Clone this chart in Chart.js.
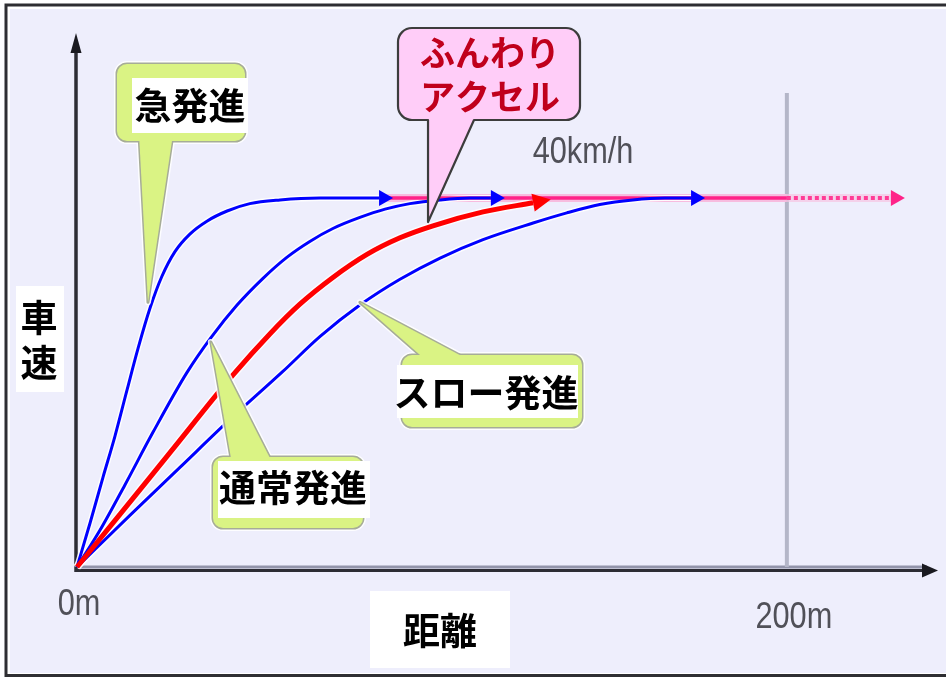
<!DOCTYPE html>
<html><head><meta charset="utf-8">
<script src="https://cdn.jsdelivr.net/npm/chart.js@4/dist/chart.umd.min.js"></script>
<style>html,body{margin:0;padding:0;background:#fff;}canvas{display:block;}</style>
</head><body>
<canvas id="c" width="946" height="677"></canvas>
<script>
// ---- data ----
const xTickValues = [0, 200];
const xTickLabels = ['0m', '200m'];
const targetSpeed = 40;
const speedLabel = '40km/h';
const xTitle = '距離';
const yTitle = ['車', '速'];

const quickX = [0, 3.7, 7.3, 10.7, 14.1, 17.2, 20.6, 23.9, 27.6, 31.8, 36.6, 42.3, 48.7, 57.2, 68.5, 85.1];
const quickY = [0, 4.8, 9.7, 14.2, 19.2, 23.7, 28.1, 31.5, 34.2, 36.1, 37.5, 38.6, 39.4, 39.8, 40, 40];

const normalX = [0, 6.5, 13.5, 21.4, 31.0, 37.8, 45.1, 52.4, 59.2, 65.6, 72.1, 79.7, 86.8, 93.8, 102.3, 110.7, 116.6];
const normalY = [0, 4.0, 8.9, 14.6, 21.1, 24.9, 28.4, 31.3, 33.6, 35.3, 36.7, 37.9, 38.8, 39.4, 39.8, 40, 40];

const softX = [0, 12.1, 26.2, 43.9, 54.4, 62.8, 72.1, 81.7, 91.0, 100.3, 114.4, 128.5];
const softY = [0, 5.7, 12.4, 20.8, 25.3, 28.5, 31.4, 33.9, 35.7, 37.0, 38.5, 39.5];

const slowX = [0, 14.9, 29.0, 43.1, 58.0, 68.5, 79.7, 91.0, 102.3, 114.4, 128.5, 138.0, 147.3, 156.6, 165.6, 173.0];
const slowY = [0, 5.6, 10.8, 16.0, 21.2, 25.0, 28.4, 31.2, 33.5, 35.5, 37.3, 38.4, 39.3, 39.8, 40, 40];

const cruiseX = [85.4, 200];
const cruiseY = [40, 40];
const extendX = [200, 229.3];
const extendY = [40, 40];
const markerX = [200, 200];
const markerY = [0, 51.4];

const quickLabel = '急発進';
const normalLabel = '通常発進';
const slowLabel = 'スロー発進';
const softLabel = ['ふんわり', 'アクセル'];
// callout tips (data coords)
const quickTip = [20.0, 28.7];
const normalTip = [37.7, 24.4];
const slowTip = [79.7, 28.7];
const softTip = [98.9, 37.4];

// ---- helpers ----
const pts = (xs, ys) => xs.map((x, i) => ({x, y: ys[i]}));
const BLUE = '#0000FF';
function curve(xs, ys, color, width, order, extra) {
  return Object.assign({data: pts(xs, ys), borderColor: color, borderWidth: width, order,
    tension: 0.4, cubicInterpolationMode: 'monotone', pointRadius: 0, clip: false, fill: false}, extra || {});
}
function straight(xs, ys, color, width, order, extra) {
  return Object.assign({data: pts(xs, ys), borderColor: color, borderWidth: width, order,
    tension: 0, pointRadius: 0, clip: false, fill: false}, extra || {});
}

const datasets = [
  curve(softX, softY, '#FF0000', 5, 0, {arrow: {len: 18, half: 9, color: '#FF0000'}}),
  curve(quickX, quickY, BLUE, 3, 1, {arrow: {len: 14, half: 8, color: BLUE}}),
  curve(normalX, normalY, BLUE, 3, 1, {arrow: {len: 14, half: 8, color: BLUE}}),
  curve(slowX, slowY, BLUE, 3, 1, {arrow: {len: 14, half: 8, color: BLUE}}),
  curve(quickX, quickY, 'rgba(255,255,255,0.9)', 6, 3),
  curve(normalX, normalY, 'rgba(255,255,255,0.9)', 6, 3),
  curve(slowX, slowY, 'rgba(255,255,255,0.9)', 6, 3),
  curve(softX, softY, 'rgba(255,255,255,0.8)', 8, 3),
  straight(cruiseX, cruiseY, '#FF2288', 3.5, 2),
  straight(extendX, extendY, '#FF3C96', 4, 2, {borderDash: [4, 3], arrow: {len: 14, half: 8, color: '#FF2288'}}),
  straight(cruiseX, cruiseY, '#F7BCDF', 8, 4),
  straight(extendX, extendY, 'rgba(246,196,226,0.7)', 8, 4),
  straight(markerX, markerY, '#B4B6C8', 4, 5)
];

// ---- drawing helpers ----
function condensedText(ctx, text, cx, baseline, size, color) {
  ctx.save();
  ctx.font = size + 'px "Liberation Sans", Arial, sans-serif';
  ctx.translate(cx, baseline);
  ctx.scale(0.83, 1);
  ctx.textAlign = 'center';
  ctx.textBaseline = 'alphabetic';
  ctx.fillStyle = color;
  ctx.fillText(text, 0, 0);
  ctx.restore();
}
function greenCallout(ctx, box, white, tip, base, text, tc) {
  ctx.save();
  ctx.lineJoin = 'round';
  const boxPath = () => { ctx.beginPath(); ctx.roundRect(box[0], box[1], box[2], box[3], 10); };
  const ptrPath = () => { ctx.beginPath(); ctx.moveTo(base[0], base[1]); ctx.lineTo(tip[0], tip[1]); ctx.lineTo(base[2], base[3]); ctx.closePath(); };
  ctx.lineWidth = 6; ctx.strokeStyle = 'rgba(255,255,255,0.85)';
  boxPath(); ctx.stroke(); ptrPath(); ctx.stroke();
  ctx.lineWidth = 3; ctx.strokeStyle = '#A6AC98';
  boxPath(); ctx.stroke(); ptrPath(); ctx.stroke();
  ctx.fillStyle = '#DAF384';
  boxPath(); ctx.fill(); ptrPath(); ctx.fill();
  ctx.fillStyle = '#FFFFFF';
  ctx.fillRect(white[0], white[1], white[2], white[3]);
  ctx.fillStyle = '#000';
  ctx.font = 'bold 37px "Noto Sans CJK JP", sans-serif';
  ctx.textAlign = 'center'; ctx.textBaseline = 'middle';
  ctx.fillText(text, tc[0], tc[1]);
  ctx.restore();
}

const overlay = {
  id: 'overlay',
  beforeDraw(chart) {
    const ctx = chart.ctx;
    ctx.save();
    ctx.fillStyle = '#FFFFFF'; ctx.fillRect(0, 0, 946, 677);
    ctx.strokeStyle = '#2E2E32'; ctx.lineWidth = 3;
    ctx.beginPath(); ctx.moveTo(950, 5); ctx.lineTo(6, 5); ctx.lineTo(6, 675.5); ctx.lineTo(950, 675.5); ctx.stroke();
    ctx.fillStyle = '#EEEEFC'; ctx.fillRect(10, 9, 940, 664);
    ctx.restore();
  },
  beforeDatasetsDraw(chart) {
    const ctx = chart.ctx, a = chart.chartArea;
    ctx.save();
    // x axis
    ctx.strokeStyle = '#9294AA'; ctx.lineWidth = 3;
    ctx.beginPath(); ctx.moveTo(a.left + 2, a.bottom); ctx.lineTo(a.right - 10, a.bottom); ctx.stroke();
    ctx.strokeStyle = '#2C2C34'; ctx.lineWidth = 3;
    ctx.beginPath(); ctx.moveTo(a.left - 2, a.bottom + 3.5); ctx.lineTo(a.right - 12, a.bottom + 3.5); ctx.stroke();
    ctx.fillStyle = '#1A1A20';
    ctx.beginPath(); ctx.moveTo(a.right + 1, a.bottom + 3.5); ctx.lineTo(a.right - 15, a.bottom - 3.5); ctx.lineTo(a.right - 15, a.bottom + 10.5); ctx.closePath(); ctx.fill();
    // y axis
    ctx.strokeStyle = '#2C2C34'; ctx.lineWidth = 3.5;
    ctx.beginPath(); ctx.moveTo(a.left - 1, a.bottom + 5); ctx.lineTo(a.left - 1, a.top + 14); ctx.stroke();
    ctx.beginPath(); ctx.moveTo(a.left - 1, a.top); ctx.lineTo(a.left - 6.5, a.top + 20); ctx.lineTo(a.left + 4.5, a.top + 20); ctx.closePath(); ctx.fill();
    ctx.restore();
  },
  afterDatasetsDraw(chart) {
    const ctx = chart.ctx, xs = chart.scales.x, ys = chart.scales.y;
    // arrowheads
    chart.data.datasets.forEach((ds, i) => {
      if (!ds.arrow) return;
      const d = chart.getDatasetMeta(i).data, n = d.length;
      const p = d[n - 1], q = d[n - 2];
      const ang = Math.atan2(p.y - q.y, p.x - q.x);
      ctx.save(); ctx.translate(p.x, p.y); ctx.rotate(ang);
      ctx.beginPath(); ctx.moveTo(ds.arrow.len, 0); ctx.lineTo(0, -ds.arrow.half); ctx.lineTo(0, ds.arrow.half); ctx.closePath();
      ctx.fillStyle = ds.arrow.color; ctx.fill(); ctx.restore();
    });
    const P = (v) => [xs.getPixelForValue(v[0]), ys.getPixelForValue(v[1])];
    // tick labels
    condensedText(ctx, xTickLabels[0], xs.getPixelForValue(xTickValues[0]) + 2, 615, 37, '#505058');
    condensedText(ctx, xTickLabels[1], xs.getPixelForValue(xTickValues[1]) + 7, 628, 37, '#505058');
    condensedText(ctx, speedLabel, 583, ys.getPixelForValue(targetSpeed) - 35, 37, '#505058');
    // axis titles
    ctx.save();
    ctx.fillStyle = '#FFFFFF';
    ctx.fillRect(16, 286, 48, 106);
    ctx.fillRect(370, 591, 140, 77);
    ctx.fillStyle = '#000';
    ctx.font = 'bold 37px "Noto Sans CJK JP", sans-serif';
    ctx.textAlign = 'center'; ctx.textBaseline = 'middle';
    ctx.fillText(yTitle[0], 39, 318);
    ctx.fillText(yTitle[1], 39, 363);
    ctx.fillText(xTitle, 440, 631);
    ctx.restore();
    // green callouts
    greenCallout(ctx, [117, 64, 128, 77], [132, 78, 116, 55], P(quickTip), [139, 134, 173, 134], quickLabel, [190, 106]);
    greenCallout(ctx, [213, 457, 150, 71], [218, 461, 152, 57], P(normalTip), [232, 464, 273, 464], normalLabel, [293, 488]);
    greenCallout(ctx, [402, 355, 180, 72], [397, 365, 181, 53], P(slowTip), [428, 362, 473, 362], slowLabel, [486, 393]);
    // pink callout
    const t = P(softTip);
    const bx = 398, by = 28, bw = 182, bh = 92, r = 14;
    ctx.save();
    ctx.beginPath();
    ctx.moveTo(bx + r, by);
    ctx.lineTo(bx + bw - r, by); ctx.arcTo(bx + bw, by, bx + bw, by + r, r);
    ctx.lineTo(bx + bw, by + bh - r); ctx.arcTo(bx + bw, by + bh, bx + bw - r, by + bh, r);
    ctx.lineTo(474, by + bh); ctx.lineTo(t[0], t[1]); ctx.lineTo(t[0], by + bh);
    ctx.lineTo(bx + r, by + bh); ctx.arcTo(bx, by + bh, bx, by + bh - r, r);
    ctx.lineTo(bx, by + r); ctx.arcTo(bx, by, bx + r, by, r);
    ctx.closePath();
    ctx.fillStyle = '#FFCDF8'; ctx.fill();
    ctx.strokeStyle = '#3C3C3C'; ctx.lineWidth = 2.2; ctx.lineJoin = 'round'; ctx.stroke();
    ctx.fillStyle = '#C0001C';
    ctx.font = 'bold 35px "Noto Sans CJK JP", sans-serif';
    ctx.textAlign = 'center'; ctx.textBaseline = 'middle';
    ctx.fillText(softLabel[0], 490, 53);
    ctx.fillText(softLabel[1], 490, 97);
    ctx.restore();
  }
};

new Chart(document.getElementById('c'), {
  type: 'line',
  data: {datasets},
  options: {
    responsive: false,
    animation: false,
    events: [],
    layout: {padding: {left: 77, top: 33, right: 9, bottom: 110}},
    plugins: {legend: {display: false}, tooltip: {enabled: false}},
    scales: {
      x: {type: 'linear', min: 0, max: 242.3, display: false},
      y: {type: 'linear', min: 0, max: 57.9, display: false}
    }
  },
  plugins: [overlay]
});
</script>
</body></html>
